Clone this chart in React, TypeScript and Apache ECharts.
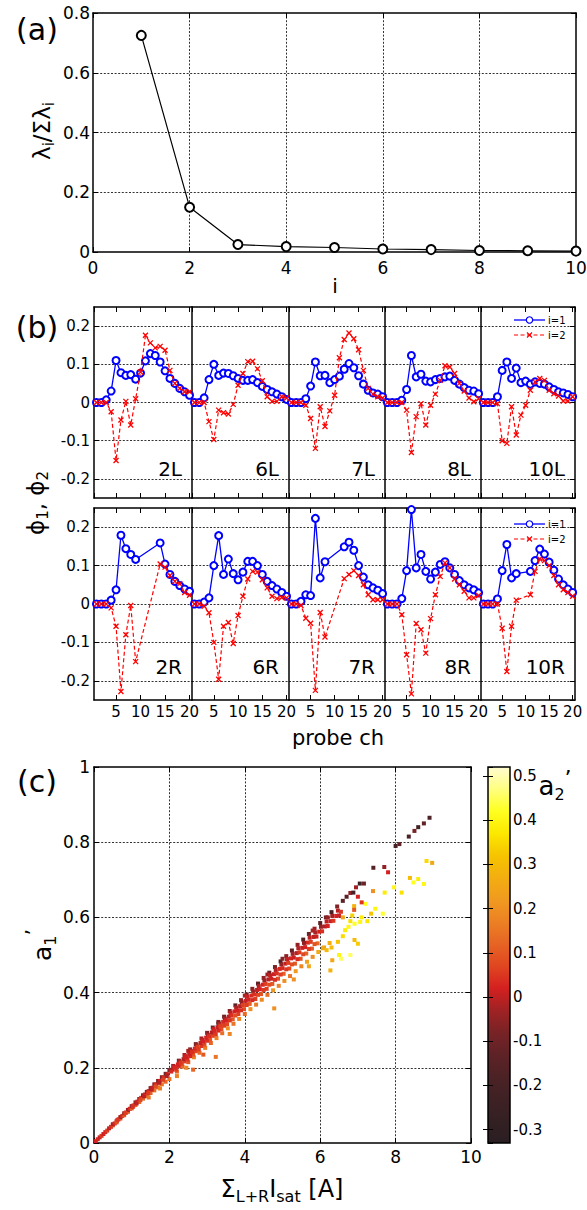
import React, { useEffect, useRef } from "react";
import * as echarts from "echarts";

const FONT = "DejaVu Sans";

// ---------- panel (a) ----------
const EIG_I = [1, 2, 3, 4, 5, 6, 7, 8, 9, 10];
const EIG_FRAC = [0.725, 0.15, 0.025, 0.018, 0.015, 0.01, 0.008, 0.005, 0.004, 0.003];

// ---------- panel (b) ----------
const CH_FULL = [1, 2, 3, 4, 5, 6, 7, 8, 9, 10, 11, 12, 13, 14, 15, 16, 17, 18, 19, 20];
const CH_2R = [1, 2, 3, 4, 5, 6, 7, 8, 9, 14, 15, 16, 17, 18, 19, 20];
const CH_7R = [1, 2, 3, 4, 5, 6, 7, 8, 12, 13, 14, 15, 16, 17, 18, 19, 20];
const CH_10R = [1, 2, 3, 4, 5, 6, 7, 8, 11, 12, 13, 14, 15, 16, 17, 18, 19, 20];

const PHI1_2L = [0, 0, 0.007, 0.03, 0.11, 0.078, 0.071, 0.073, 0.061, 0.077, 0.109, 0.128, 0.123, 0.106, 0.083, 0.063, 0.05, 0.037, 0.028, 0.019];
const PHI2_2L = [0, 0, 0, -0.024, -0.152, -0.046, 0.003, -0.059, 0.01, 0.08, 0.176, 0.156, 0.143, 0.147, 0.137, 0.084, 0.05, 0.037, 0.028, 0.028];
const PHI1_6L = [0, 0, 0.012, 0.06, 0.1, 0.071, 0.077, 0.076, 0.07, 0.063, 0.058, 0.058, 0.06, 0.052, 0.042, 0.034, 0.028, 0.022, 0.015, 0.008];
const PHI2_6L = [0, 0, 0, -0.05, -0.097, -0.02, -0.027, -0.03, -0.005, 0.045, 0.076, 0.107, 0.108, 0.088, 0.057, 0.015, 0.003, 0.003, 0.015, 0.012];
const PHI1_7L = [0, 0, 0, 0.01, 0.043, 0.106, 0.07, 0.071, 0.052, 0.06, 0.069, 0.087, 0.102, 0.091, 0.07, 0.048, 0.032, 0.025, 0.022, 0.015];
const PHI2_7L = [0, 0, 0, -0.007, -0.042, -0.12, -0.011, -0.063, -0.022, 0.019, 0.117, 0.165, 0.182, 0.167, 0.138, 0.084, 0.037, 0.022, 0.015, 0.012];
const PHI1_8L = [0, 0, 0, 0.006, 0.034, 0.123, 0.067, 0.074, 0.056, 0.054, 0.06, 0.063, 0.067, 0.069, 0.058, 0.048, 0.039, 0.032, 0.03, 0.023];
const PHI2_8L = [0, 0, 0, 0, -0.02, -0.131, -0.037, -0.003, -0.059, -0.007, 0.022, 0.058, 0.096, 0.093, 0.076, 0.05, 0.03, 0.012, 0.002, 0.01];
const PHI1_10L = [0, 0, 0, 0.015, 0.084, 0.106, 0.063, 0.09, 0.052, 0.056, 0.048, 0.054, 0.05, 0.048, 0.041, 0.034, 0.028, 0.025, 0.021, 0.015];
const PHI2_10L = [0, 0, 0, -0.003, -0.1, -0.107, -0.011, -0.085, -0.033, -0.007, 0.032, 0.054, 0.063, 0.058, 0.032, 0.023, 0.017, 0.004, 0.004, 0.015];

const PHI1_2R = [0, 0, 0, 0.01, 0.037, 0.179, 0.144, 0.129, 0.116, 0.159, 0.104, 0.077, 0.059, 0.048, 0.039, 0.033];
const PHI2_2R = [0, 0, 0, -0.01, -0.058, -0.228, -0.08, -0.004, -0.15, 0.104, 0.096, 0.074, 0.059, 0.053, 0.03, 0.023];
const PHI1_6R = [0, 0, 0.005, 0.016, 0.1, 0.178, 0.077, 0.117, 0.079, 0.063, 0.083, 0.111, 0.111, 0.1, 0.077, 0.059, 0.048, 0.039, 0.03, 0.02];
const PHI2_6R = [0, 0, -0.006, -0.023, -0.1, -0.196, -0.058, -0.048, -0.103, -0.03, 0.02, 0.065, 0.085, 0.083, 0.063, 0.042, 0.02, 0.014, 0.017, 0.016];
const PHI1_7R = [0, 0, 0.007, 0.024, 0.022, 0.223, 0.068, 0.11, 0.149, 0.161, 0.14, 0.1, 0.07, 0.05, 0.042, 0.036, 0.027];
const PHI2_7R = [0, 0, -0.004, -0.037, -0.05, -0.225, -0.022, -0.086, 0.066, 0.077, 0.087, 0.074, 0.05, 0.024, 0.011, 0.011, 0.011];
const PHI1_8R = [0, 0, 0, 0.014, 0.087, 0.246, 0.094, 0.129, 0.085, 0.065, 0.083, 0.103, 0.11, 0.094, 0.077, 0.061, 0.05, 0.042, 0.037, 0.029];
const PHI2_8R = [0, 0, 0, -0.028, -0.132, -0.234, -0.051, -0.067, -0.128, -0.038, 0.024, 0.072, 0.107, 0.094, 0.065, 0.05, 0.033, 0.016, 0.016, 0.022];
const PHI1_10R = [0, 0, 0, 0.013, 0.087, 0.155, 0.068, 0.079, 0.085, 0.113, 0.143, 0.13, 0.109, 0.088, 0.065, 0.05, 0.039, 0.03];
const PHI2_10R = [0, 0, 0, 0, -0.063, -0.176, -0.058, 0.01, 0.024, 0.085, 0.117, 0.113, 0.1, 0.074, 0.05, 0.037, 0.03, 0.02];

// ---------- panel (c): [sum Isat, a1', a2'] ----------
const C_ORIGIN = [
  [0.05, 0.005, 0.02], [0.1, 0.01, 0.03], [0.15, 0.015, 0.01], [0.2, 0.019, 0.05], [0.25, 0.024, 0.02], [0.3, 0.029, 0.03],
  [0.35, 0.033, 0.06], [0.4, 0.039, 0.0], [0.45, 0.043, 0.04], [0.5, 0.047, 0.08], [0.5, 0.05, -0.02], [0.55, 0.052, 0.03],
  [0.6, 0.058, 0.0], [0.6, 0.055, 0.09], [0.65, 0.063, 0.02], [0.7, 0.065, 0.1], [0.7, 0.069, -0.03], [0.75, 0.072, 0.04],
  [0.8, 0.074, 0.1], [0.8, 0.079, -0.03], [0.85, 0.081, 0.03], [0.9, 0.083, 0.1], [0.9, 0.088, -0.04], [0.95, 0.091, 0.03],
  [1.0, 0.092, 0.1], [1.0, 0.098, -0.04], [1.05, 0.1, 0.04], [1.1, 0.101, 0.11], [1.1, 0.108, -0.05], [1.15, 0.11, 0.02],
  [1.2, 0.109, 0.12], [1.2, 0.117, -0.04], [1.25, 0.12, 0.05], [1.3, 0.118, 0.12], [1.3, 0.127, -0.06], [1.35, 0.129, 0.02],
  [1.4, 0.125, 0.13], [1.4, 0.136, -0.05], [1.45, 0.138, 0.03], [1.45, 0.121, 0.15], [1.5, 0.133, 0.11], [1.5, 0.146, -0.07],
  [1.55, 0.147, 0.01], [1.6, 0.14, 0.14], [1.6, 0.156, -0.06], [1.65, 0.156, 0.04], [1.7, 0.148, 0.13], [1.7, 0.165, -0.08],
  [1.75, 0.165, 0.02], [1.75, 0.145, 0.17], [1.8, 0.156, 0.15], [1.8, 0.175, -0.07], [1.85, 0.174, 0.04], [1.9, 0.163, 0.13],
  [1.9, 0.184, -0.1], [1.95, 0.183, 0.01], [2.0, 0.17, 0.15], [2.0, 0.194, -0.07], [2.05, 0.19, 0.03], [2.2, 0.178, 0.17], [2.45, 0.2, 0.19],
  [0.62, 0.061, 0.05], [0.83, 0.08, 0.06], [1.03, 0.096, 0.04], [1.23, 0.114, 0.07], [1.43, 0.132, 0.05], [1.63, 0.15, 0.08],
  [1.83, 0.168, 0.06], [1.33, 0.124, 0.0], [1.53, 0.142, 0.0], [1.73, 0.16, -0.01], [1.93, 0.178, -0.02], [1.13, 0.105, 0.0]
];
const C_LOWER = [
  [2.2, 0.19, 0.12], [2.35, 0.203, 0.15], [2.5, 0.215, 0.1], [2.65, 0.228, 0.17], [2.8, 0.24, 0.13], [2.95, 0.253, 0.16],
  [3.1, 0.266, 0.12], [3.25, 0.279, 0.18], [3.4, 0.292, 0.14], [3.55, 0.305, 0.2], [3.7, 0.317, 0.15], [3.85, 0.33, 0.18],
  [4.0, 0.343, 0.13], [4.15, 0.356, 0.2], [4.3, 0.368, 0.16], [4.45, 0.381, 0.19], [4.6, 0.394, 0.14], [4.75, 0.406, 0.21],
  [4.9, 0.418, 0.17], [5.05, 0.431, 0.2], [5.2, 0.444, 0.15], [5.35, 0.457, 0.22], [5.5, 0.47, 0.18], [5.65, 0.482, 0.24],
  [5.8, 0.495, 0.2], [5.95, 0.508, 0.26], [6.1, 0.52, 0.22], [6.25, 0.532, 0.27],
  [2.63, 0.195, 0.12], [3.23, 0.229, 0.15], [4.78, 0.358, 0.2], [6.27, 0.459, 0.28], [6.32, 0.486, 0.25], [2.9, 0.235, 0.1],
  [3.6, 0.29, 0.18], [5.3, 0.435, 0.2], [5.7, 0.47, 0.25]
];
const C_LOW_MID = [
  [2.18, 0.195, 0.06], [2.33, 0.209, 0.08], [2.48, 0.222, 0.05], [2.63, 0.235, 0.09], [2.78, 0.249, 0.06], [2.93, 0.262, 0.08],
  [3.08, 0.276, 0.1], [3.23, 0.289, 0.05], [3.38, 0.303, 0.08], [3.53, 0.316, 0.07], [3.68, 0.329, 0.1], [3.83, 0.343, 0.06],
  [3.98, 0.356, 0.08], [4.13, 0.37, 0.11], [4.28, 0.383, 0.06], [4.43, 0.396, 0.09], [4.58, 0.41, 0.06], [4.73, 0.423, 0.1],
  [4.88, 0.437, 0.08], [5.03, 0.45, 0.11], [5.18, 0.464, 0.07], [5.33, 0.477, 0.1], [5.48, 0.49, 0.09], [5.63, 0.504, 0.12],
  [5.78, 0.517, 0.1], [5.93, 0.531, 0.13]
];
const C_LOW2 = [
  [2.25, 0.204, 0.04], [2.4, 0.217, 0.06], [2.55, 0.231, 0.03], [2.7, 0.244, 0.07], [2.85, 0.258, 0.05], [3.0, 0.272, 0.04],
  [3.15, 0.285, 0.07], [3.3, 0.299, 0.03], [3.45, 0.312, 0.06], [3.6, 0.326, 0.05], [3.75, 0.339, 0.08], [3.9, 0.353, 0.04],
  [4.05, 0.367, 0.06], [4.2, 0.38, 0.03], [4.35, 0.394, 0.07], [4.5, 0.407, 0.05], [4.65, 0.421, 0.08], [4.8, 0.434, 0.04],
  [4.95, 0.448, 0.06], [5.1, 0.462, 0.05], [5.25, 0.475, 0.08], [5.4, 0.489, 0.04], [5.55, 0.502, 0.07], [5.7, 0.516, 0.06],
  [5.85, 0.529, 0.09]
];
const C_MIDDLE = [
  [2.15, 0.2, 0.03], [2.3, 0.214, 0.05], [2.45, 0.228, 0.02], [2.6, 0.242, 0.04], [2.75, 0.256, 0.06], [2.9, 0.27, 0.02],
  [3.05, 0.284, 0.04], [3.2, 0.298, 0.03], [3.35, 0.312, 0.06], [3.5, 0.326, 0.02], [3.65, 0.34, 0.04], [3.8, 0.353, 0.02],
  [3.95, 0.367, 0.06], [4.1, 0.381, 0.02], [4.25, 0.395, 0.04], [4.4, 0.409, 0.02], [4.55, 0.423, 0.06], [4.7, 0.437, 0.01],
  [4.85, 0.451, 0.04], [5.0, 0.465, 0.03], [5.15, 0.479, 0.06], [5.3, 0.493, 0.01], [5.45, 0.507, 0.05], [5.6, 0.521, 0.02],
  [5.75, 0.535, 0.06], [5.9, 0.549, 0.01], [6.05, 0.563, 0.04], [6.2, 0.577, 0.02], [6.35, 0.591, 0.05], [6.5, 0.605, 0.01]
];
const C_MID2 = [
  [2.075, 0.195, 0.0], [2.225, 0.209, 0.02], [2.375, 0.223, -0.01], [2.525, 0.237, 0.01], [2.675, 0.251, 0.03], [2.825, 0.266, 0.0],
  [2.975, 0.28, 0.02], [3.125, 0.294, -0.01], [3.275, 0.308, 0.01], [3.425, 0.322, 0.03], [3.575, 0.336, 0.0], [3.725, 0.35, 0.02],
  [3.875, 0.364, -0.01], [4.025, 0.378, 0.01], [4.175, 0.392, 0.03], [4.325, 0.407, 0.0], [4.475, 0.421, 0.02], [4.625, 0.435, -0.01],
  [4.775, 0.449, 0.01], [4.925, 0.463, 0.03], [5.075, 0.477, 0.0], [5.225, 0.491, 0.02], [5.375, 0.505, -0.01], [5.525, 0.519, 0.01],
  [5.675, 0.533, 0.03], [5.825, 0.548, 0.0], [5.975, 0.562, 0.02], [6.125, 0.576, -0.01], [6.275, 0.59, 0.01], [6.425, 0.604, 0.02]
];
const C_MID_HI = [
  [2.12, 0.203, 0.0], [2.27, 0.217, -0.03], [2.42, 0.231, 0.01], [2.57, 0.245, -0.02], [2.72, 0.26, -0.04], [2.87, 0.274, 0.0],
  [3.02, 0.288, -0.03], [3.17, 0.303, 0.01], [3.32, 0.317, -0.02], [3.47, 0.331, -0.04], [3.62, 0.346, 0.0], [3.77, 0.36, -0.02],
  [3.92, 0.374, -0.05], [4.07, 0.389, 0.01], [4.22, 0.403, -0.03], [4.37, 0.417, -0.01], [4.52, 0.432, -0.04], [4.67, 0.446, 0.0],
  [4.82, 0.46, -0.02], [4.97, 0.475, -0.05], [5.12, 0.489, 0.0], [5.27, 0.503, -0.03], [5.42, 0.518, -0.01], [5.57, 0.532, -0.05],
  [5.72, 0.546, 0.0], [5.87, 0.56, -0.02], [6.02, 0.575, -0.04], [6.17, 0.589, 0.0], [6.32, 0.604, -0.03], [6.47, 0.618, -0.01]
];
const C_UPPER = [
  [2.1, 0.205, -0.04], [2.25, 0.219, -0.08], [2.4, 0.234, -0.03], [2.55, 0.249, -0.06], [2.7, 0.263, -0.1], [2.85, 0.278, -0.04],
  [3.0, 0.293, -0.07], [3.15, 0.307, -0.12], [3.3, 0.322, -0.05], [3.45, 0.336, -0.09], [3.6, 0.351, -0.06], [3.75, 0.366, -0.14],
  [3.9, 0.38, -0.04], [4.05, 0.395, -0.1], [4.2, 0.41, -0.06], [4.35, 0.424, -0.13], [4.5, 0.439, -0.05], [4.65, 0.453, -0.11],
  [4.8, 0.468, -0.08], [4.95, 0.483, -0.18], [5.1, 0.497, -0.06], [5.25, 0.512, -0.12], [5.4, 0.527, -0.05], [5.55, 0.541, -0.16],
  [5.7, 0.556, -0.1], [5.85, 0.57, -0.04], [6.0, 0.585, -0.14], [6.15, 0.6, -0.08], [6.3, 0.614, -0.2], [6.45, 0.629, -0.07],
  [6.6, 0.644, -0.13], [2.5, 0.245, -0.02], [3.3, 0.318, -0.2], [4.0, 0.392, -0.02], [4.6, 0.448, -0.04], [5.0, 0.49, -0.06],
  [5.8, 0.565, -0.02], [6.2, 0.6, -0.05]
];
const C_TAIL = [
  [6.07, 0.518, 0.26], [6.17, 0.513, 0.3], [6.3, 0.52, 0.3], [6.47, 0.535, 0.32], [6.6, 0.55, 0.35], [6.66, 0.566, 0.38],
  [6.75, 0.575, 0.4], [6.8, 0.59, 0.36], [6.91, 0.583, 0.42], [6.91, 0.54, 0.3], [7.0, 0.53, 0.33], [7.06, 0.588, 0.4],
  [7.1, 0.6, 0.38], [6.85, 0.605, 0.34], [7.2, 0.636, 0.42], [7.25, 0.59, 0.37], [7.35, 0.61, 0.32], [7.46, 0.623, 0.4],
  [7.66, 0.61, 0.42], [7.71, 0.666, 0.38], [7.96, 0.68, 0.4], [8.16, 0.666, 0.36], [8.38, 0.705, 0.3], [8.47, 0.693, 0.42],
  [8.6, 0.702, 0.38], [8.75, 0.689, 0.4], [8.97, 0.745, 0.25], [8.82, 0.75, 0.35], [6.6, 0.6, 0.25], [6.9, 0.63, 0.28],
  [7.4, 0.67, 0.2], [6.5, 0.5, 0.4], [6.55, 0.49, 0.45], [6.8, 0.5, 0.45],
  [6.7, 0.655, -0.15], [6.8, 0.665, -0.05], [6.88, 0.666, -0.2], [6.95, 0.68, -0.03], [7.05, 0.69, -0.25], [7.16, 0.69, -0.1],
  [7.0, 0.655, 0.02], [7.41, 0.732, -0.15], [7.7, 0.734, -0.05], [7.8, 0.72, 0.02], [8.0, 0.79, -0.2], [8.1, 0.795, -0.12],
  [8.35, 0.815, -0.18], [8.5, 0.83, -0.08], [8.6, 0.84, -0.22], [8.75, 0.85, -0.12], [8.9, 0.865, -0.18], [6.55, 0.615, 0.05],
  [6.9, 0.62, 0.1], [7.1, 0.64, 0.05]
];

const CMAP = [
  "#2a1e22", "#332023", "#3e2124", "#4c2225", "#5e2226", "#782326", "#a02224", "#d42020", "#e04620",
  "#e66424", "#ec8024", "#f09a20", "#f3ae10", "#f6c400", "#fce800", "#ffff20", "#ffff80", "#fffcd0"
];
const CB_MIN = -0.33;
const CB_MAX = 0.52;

// ---------- layout ----------
const COL_X = [94, 192, 289, 385, 481, 575];
const ROWS = [{ top: 307, height: 191, labelY: 469, legY: 320 }, { top: 508, height: 192, labelY: 667, legY: 524 }];

let measureCtx: CanvasRenderingContext2D | null = null;
function tw(t: string, size: number) {
  if (!measureCtx) measureCtx = document.createElement("canvas").getContext("2d");
  measureCtx!.font = `${size}px "${FONT}"`;
  return measureCtx!.measureText(t).width;
}

function txt(text: string, x: number, y: number, size: number, align = "center", valign = "middle", extra: any = {}) {
  return {
    type: "text", x, y, silent: true,
    style: { text, fontSize: size, fontFamily: FONT, fill: "#000", textAlign: align, textVerticalAlign: valign, align, verticalAlign: valign, ...extra },
  };
}

function compLabel(parts: [string, number, number][], cx: number, cy: number, rot: boolean) {
  const widths = parts.map((p) => tw(p[0], p[1]));
  const total = widths.reduce((a, b) => a + b, 0);
  let x = -total / 2;
  const children = parts.map((p, i) => {
    const el = txt(p[0], x, p[2], p[1], "left", "middle");
    x += widths[i];
    return el;
  });
  return { type: "group", x: cx, y: cy, rotation: rot ? Math.PI / 2 : 0, children };
}

export default function App() {
  const ref = useRef<HTMLDivElement>(null);
  useEffect(() => {
    if (!ref.current) return;
    const chart = echarts.init(ref.current, undefined, { renderer: "svg" });

    const axLine = { show: true, onZero: false, lineStyle: { color: "#000", width: 1.5 } };
    const tickIn = (show = true) => ({ show, inside: true, length: 5, lineStyle: { color: "#000", width: 1 } });
    const grid = (left: number, top: number, width: number, height: number) => ({
      left, top, width, height, containLabel: false, outerBoundsMode: "none", show: false,
    });
    const dotted = { show: true, showMinLine: false, showMaxLine: false, lineStyle: { color: "#333", width: 1, type: [2, 1.6], opacity: 1 } };
    const lbl = (size: number, margin: number, show = true) => ({ show, fontSize: size, fontFamily: FONT, color: "#000", margin });

    const grids: any[] = [];
    const xAxes: any[] = [];
    const yAxes: any[] = [];
    const series: any[] = [];

    // (a)
    grids.push(grid(93, 13, 483, 239));
    xAxes.push({ gridIndex: 0, type: "value", min: 0, max: 10, interval: 2, position: "bottom", axisLine: axLine, axisTick: tickIn(), axisLabel: lbl(17, 7), splitLine: dotted });
    xAxes.push({ gridIndex: 0, type: "value", min: 0, max: 10, interval: 2, position: "top", axisLine: axLine, axisTick: tickIn(), axisLabel: { show: false }, splitLine: { show: false } });
    yAxes.push({ gridIndex: 0, type: "value", min: 0, max: 0.8, interval: 0.2, position: "left", axisLine: axLine, axisTick: tickIn(), axisLabel: lbl(17, 3), splitLine: dotted });
    yAxes.push({ gridIndex: 0, type: "value", min: 0, max: 0.8, interval: 0.2, position: "right", axisLine: axLine, axisTick: tickIn(), axisLabel: { show: false }, splitLine: { show: false } });
    series.push({
      type: "line", xAxisIndex: 0, yAxisIndex: 0, data: EIG_I.map((x, k) => [x, EIG_FRAC[k]]),
      symbol: "emptyCircle", symbolSize: 9, lineStyle: { color: "#000", width: 1.2 }, itemStyle: { color: "#000", borderWidth: 1.2 }, silent: true, z: 5,
    });

    // (b)
    const panels = [
      { name: "2L", ch: CH_FULL, p1: PHI1_2L, p2: PHI2_2L }, { name: "6L", ch: CH_FULL, p1: PHI1_6L, p2: PHI2_6L },
      { name: "7L", ch: CH_FULL, p1: PHI1_7L, p2: PHI2_7L }, { name: "8L", ch: CH_FULL, p1: PHI1_8L, p2: PHI2_8L },
      { name: "10L", ch: CH_FULL, p1: PHI1_10L, p2: PHI2_10L },
      { name: "2R", ch: CH_2R, p1: PHI1_2R, p2: PHI2_2R }, { name: "6R", ch: CH_FULL, p1: PHI1_6R, p2: PHI2_6R },
      { name: "7R", ch: CH_7R, p1: PHI1_7R, p2: PHI2_7R }, { name: "8R", ch: CH_FULL, p1: PHI1_8R, p2: PHI2_8R },
      { name: "10R", ch: CH_10R, p1: PHI1_10R, p2: PHI2_10R },
    ];
    const extraRightY: any[] = [];
    panels.forEach((p, i) => {
      const row = i < 5 ? 0 : 1;
      const col = i % 5;
      const g = grids.length;
      grids.push(grid(COL_X[col], ROWS[row].top, COL_X[col + 1] - COL_X[col], ROWS[row].height));
      const xb = xAxes.length;
      xAxes.push({
        gridIndex: g, type: "value", min: 0.5, max: 20.5, splitNumber: 4, position: "bottom", axisLine: axLine, axisTick: tickIn(),
        axisLabel: { ...lbl(15, 4, row === 1), showMinLabel: false, showMaxLabel: false }, splitLine: { show: false },
      });
      xAxes.push({
        gridIndex: g, type: "value", min: 0.5, max: 20.5, splitNumber: 4, position: "top", axisLine: axLine, axisTick: tickIn(),
        axisLabel: { show: false }, splitLine: { show: false },
      });
      const yi = yAxes.length;
      yAxes.push({
        gridIndex: g, type: "value", min: -0.25, max: 0.25, splitNumber: 5, position: "left", axisLine: axLine, axisTick: tickIn(col === 0),
        axisLabel: { ...lbl(15, 4, col === 0), showMinLabel: false, showMaxLabel: false }, splitLine: dotted,
      });
      if (col === 4) {
        extraRightY.push({
          gridIndex: g, type: "value", min: -0.25, max: 0.25, splitNumber: 5, position: "right", axisLine: axLine, axisTick: tickIn(),
          axisLabel: { show: false }, splitLine: { show: false },
        });
      }
      series.push({
        type: "line", name: "i=1", xAxisIndex: xb, yAxisIndex: yi, data: p.ch.map((c, k) => [c, p.p1[k]]),
        symbol: "emptyCircle", symbolSize: 7, lineStyle: { color: "#0000ff", width: 1.3 }, itemStyle: { color: "#0000ff", borderWidth: 1.2 }, silent: true, z: 3,
      });
      series.push({
        type: "line", name: "i=2", xAxisIndex: xb, yAxisIndex: yi, data: p.ch.map((c, k) => [c, p.p2[k]]),
        symbol: "path://M0,0L10,10M10,0L0,10", symbolSize: 5, lineStyle: { color: "#ff0000", width: 1.2, type: [4, 2.5] },
        itemStyle: { color: "#ff0000", borderColor: "#ff0000", borderWidth: 1.3 }, silent: true, z: 4,
      });
    });
    extraRightY.forEach((a) => yAxes.push(a));

    // (c)
    const gc = grids.length;
    grids.push(grid(94, 767, 377, 376));
    const xc = xAxes.length;
    xAxes.push({ gridIndex: gc, type: "value", min: 0, max: 10, interval: 2, position: "bottom", axisLine: axLine, axisTick: tickIn(), axisLabel: lbl(17, 5), splitLine: dotted });
    xAxes.push({ gridIndex: gc, type: "value", min: 0, max: 10, interval: 2, position: "top", axisLine: axLine, axisTick: tickIn(), axisLabel: { show: false }, splitLine: { show: false } });
    const yc = yAxes.length;
    yAxes.push({ gridIndex: gc, type: "value", min: 0, max: 1, interval: 0.2, position: "left", axisLine: axLine, axisTick: tickIn(), axisLabel: lbl(17, 4), splitLine: dotted });
    yAxes.push({ gridIndex: gc, type: "value", min: 0, max: 1, interval: 0.2, position: "right", axisLine: axLine, axisTick: tickIn(), axisLabel: { show: false }, splitLine: { show: false } });
    const scatterIndex = series.length;
    series.push({
      type: "scatter", xAxisIndex: xc, yAxisIndex: yc, symbol: "rect", symbolSize: 4, silent: true,
      itemStyle: { opacity: 1 },
      data: [...C_UPPER, ...C_MID_HI, ...C_LOWER, ...C_LOW_MID, ...C_LOW2, ...C_MID2, ...C_MIDDLE, ...C_ORIGIN, ...C_TAIL], z: 3,
    });

    // colorbar
    const gcb = grids.length;
    grids.push(grid(488, 767, 22, 376));
    xAxes.push({ gridIndex: gcb, type: "value", min: 0, max: 1, show: false });
    yAxes.push({
      gridIndex: gcb, type: "value", min: CB_MIN, max: CB_MAX, splitNumber: 8, position: "right", z: 10,
      axisLine: { show: false }, axisTick: tickIn(), axisLabel: { ...lbl(15, 3), showMinLabel: false, showMaxLabel: false }, splitLine: { show: false },
    });
    yAxes.push({
      gridIndex: gcb, type: "value", min: CB_MIN, max: CB_MAX, splitNumber: 8, position: "left", z: 10,
      axisLine: { show: false }, axisTick: tickIn(), axisLabel: { show: false }, splitLine: { show: false },
    });

    const stops = CMAP.map((c, i) => ({ offset: i / (CMAP.length - 1), color: c }));

    const elements: any[] = [
      { type: "rect", z: -1, silent: true, shape: { x: 488, y: 767, width: 22, height: 376 }, style: { fill: new echarts.graphic.LinearGradient(0, 1, 0, 0, stops), stroke: "#000", lineWidth: 1.5 } },
      txt("(a)", 37, 29, 30),
      txt("(b)", 37, 327, 30),
      txt("(c)", 37, 781, 30),
      txt("i", 335, 286, 20),
      txt("probe ch", 338, 738, 21),
      compLabel([["λ", 23, 0], ["i", 15, 7], ["/Σλ", 23, 0], ["i", 15, 7]], 42, 131, true),
      compLabel([["ϕ", 23, 0], ["1", 15, 7], [", ", 23, 0], ["ϕ", 23, 0], ["2", 15, 7]], 36, 503, true),
      compLabel([["a", 25, 0], ["1", 16, 8], ["’", 21, -8]], 42, 945, true),
      compLabel([["Σ", 24, 0], ["L+R", 16, 7], ["I", 24, 0], ["sat", 16, 7], [" [A]", 24, 0]], 282, 1189, false),
      compLabel([["a", 26, 0], ["2", 16, 8], ["’", 22, -8]], 555, 786, false),
    ];
    panels.forEach((p, i) => {
      const row = i < 5 ? 0 : 1;
      const col = i % 5;
      elements.push(txt(p.name, COL_X[col + 1] - 10, ROWS[row].labelY, 20, "right", "middle"));
    });
    ROWS.forEach((r) => {
      const y1 = r.legY;
      const y2 = r.legY + 15;
      elements.push({ type: "line", silent: true, shape: { x1: 514, y1, x2: 545, y2: y1 }, style: { stroke: "#0000ff", lineWidth: 1.3 } });
      elements.push({ type: "circle", silent: true, shape: { cx: 529.5, cy: y1, r: 3.2 }, style: { fill: "#fff", stroke: "#0000ff", lineWidth: 1.2 } });
      elements.push(txt("i=1", 548, y1, 10, "left", "middle"));
      elements.push({ type: "line", silent: true, shape: { x1: 514, y1: y2, x2: 545, y2: y2 }, style: { stroke: "#ff0000", lineWidth: 1.2, lineDash: [4, 2.5] } });
      elements.push({ type: "line", silent: true, shape: { x1: 527, y1: y2 - 2.5, x2: 532, y2: y2 + 2.5 }, style: { stroke: "#ff0000", lineWidth: 1.3 } });
      elements.push({ type: "line", silent: true, shape: { x1: 532, y1: y2 - 2.5, x2: 527, y2: y2 + 2.5 }, style: { stroke: "#ff0000", lineWidth: 1.3 } });
      elements.push(txt("i=2", 548, y2, 10, "left", "middle"));
    });

    chart.setOption({
      animation: false,
      backgroundColor: "#fff",
      textStyle: { fontFamily: FONT, color: "#000" },
      grid: grids,
      xAxis: xAxes,
      yAxis: yAxes,
      visualMap: {
        type: "continuous", show: false, min: CB_MIN, max: CB_MAX, dimension: 2, seriesIndex: scatterIndex,
        inRange: { color: CMAP },
      },
      series,
      graphic: { elements },
    });
    return () => chart.dispose();
  }, []);
  return <div ref={ref} style={{ position: "absolute", left: 0, top: 0, width: 587, height: 1210 }} />;
}
